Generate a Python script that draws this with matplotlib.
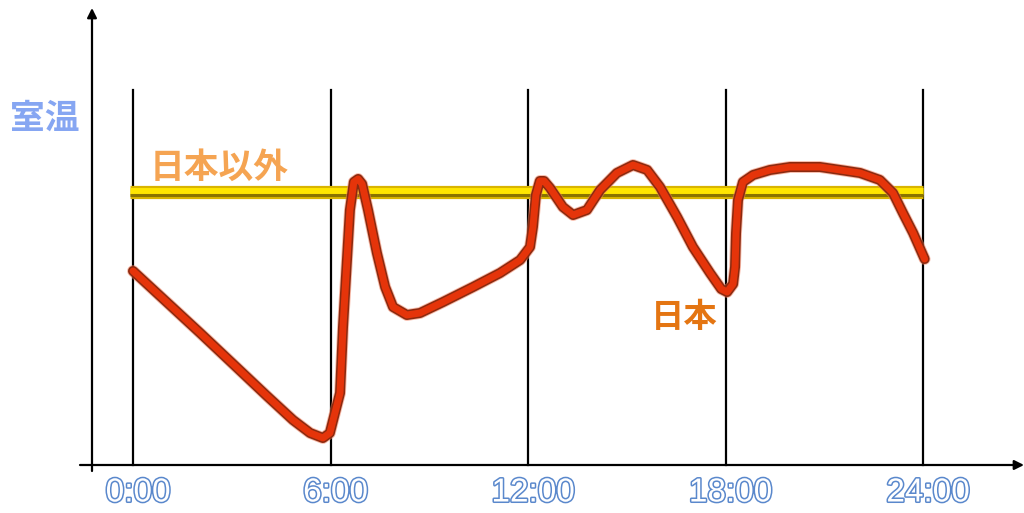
import matplotlib
matplotlib.use("Agg")
import matplotlib.pyplot as plt
import matplotlib.patheffects as pe

# ---- data ----
hour_ticks = [0, 6, 12, 18, 24]
tick_labels = ["0:00", "6:00", "12:00", "18:00", "24:00"]

# room temperature in Japan (arbitrary units)
japan_hours = [0, 2.04, 3.04, 4.07, 4.86, 5.38, 5.77, 5.98, 6.08, 6.29, 6.38, 6.50, 6.59,
               6.71, 6.84, 6.96, 7.14, 7.41, 7.66, 7.90, 8.32, 8.72, 9.42, 10.33,
               11.15, 11.76, 12.06, 12.15, 12.24, 12.36, 12.49, 12.67, 13.06, 13.37,
               13.79, 14.19, 14.70, 15.19, 15.62, 16.01, 16.53, 17.01, 17.53, 17.87,
               18.05, 18.23, 18.29, 18.32, 18.38, 18.53, 18.84, 19.35, 19.96, 20.87,
               21.69, 22.09, 22.69, 23.09, 23.39, 23.70, 24.05]
japan_temp = [194, 132, 101, 69, 45, 32, 27, 32, 45, 72, 138, 205, 255,
              283, 286, 281, 255, 212, 178, 158, 150, 152, 163, 178,
              192, 205, 218, 238, 270, 284, 284, 277, 258, 250,
              255, 275, 292, 300, 295, 278, 248, 218, 192, 176,
              173, 181, 198, 232, 265, 283, 290, 295, 298, 298,
              294, 292, 285, 272, 252, 232, 206]

# outside Japan: constant
other_hours = [-0.1, 24]
other_temp = [273, 273]

grid_top = 375

# ---- figure ----
W, H = 1024, 513
fig = plt.figure(figsize=(W / 100, H / 100), dpi=100)
ax = fig.add_axes([0, 0, 1, 1])
pxh = (923 - 133) / 24.0
ax.set_xlim(-133 / pxh, (W - 133) / pxh)
ax.set_ylim(-(H - 465), 465)
ax.axis("off")

# vertical grid lines
for h in hour_ticks:
    ax.plot([h, h], [0, grid_top], color="black", lw=1.6, zorder=1)

# axes with arrows
y_axis_x = (92 - 133) / pxh
ax.annotate("", xy=(y_axis_x, 457), xytext=(y_axis_x, -6),
            arrowprops=dict(arrowstyle="-|>", color="black", lw=1.6,
                            mutation_scale=14, shrinkA=0, shrinkB=0), zorder=2)
ax.annotate("", xy=((1024 - 133) / pxh, 0), xytext=((80 - 133) / pxh, 0),
            arrowprops=dict(arrowstyle="-|>", color="black", lw=1.6,
                            mutation_scale=14, shrinkA=0, shrinkB=0), zorder=2)

# outside-Japan line (gold bar)
ax.plot(other_hours, other_temp, color="#d9b400", lw=9.5, solid_capstyle="butt", zorder=3)
ax.plot(other_hours, [t + 1.5 for t in other_temp], color="#ffe600", lw=5, solid_capstyle="butt", zorder=3)
ax.plot(other_hours, [t - 3 for t in other_temp], color="#8a7400", lw=2.2, solid_capstyle="butt", zorder=3)

# Japan line
ax.plot(japan_hours, japan_temp, color="#e5340a", lw=5.0, solid_joinstyle="round",
        solid_capstyle="round", zorder=4,
        path_effects=[pe.Stroke(linewidth=8.5, foreground="#f08060", alpha=0.55),
                      pe.Stroke(linewidth=7.2, foreground="#8a2a10"),
                      pe.Normal()])

# labels
cjk = ["Noto Sans CJK JP", "DejaVu Sans"]
ax.text((10 - 133) / pxh, 465 - 118, "室温", family=cjk, fontsize=25, fontweight="bold",
        color="#86a6f2", va="center", ha="left", zorder=5)
ax.text((150 - 133) / pxh, 465 - 167, "日本以外", family=cjk, fontsize=25, fontweight="bold",
        color="#f5a452", va="center", ha="left", zorder=5)
ax.text((651 - 133) / pxh, 465 - 318, "日本", family=cjk, fontsize=24, fontweight="bold",
        color="#e47512", va="center", ha="left", zorder=5)

for h, lab in zip(hour_ticks, tick_labels):
    ax.text(h + 5 / pxh, -28, lab, family="Liberation Sans", fontsize=24,
            color="white", ha="center", va="center", zorder=5,
            path_effects=[pe.withStroke(linewidth=2.2, foreground="#5a88cc")])

fig.savefig("out.png", dpi=100)
